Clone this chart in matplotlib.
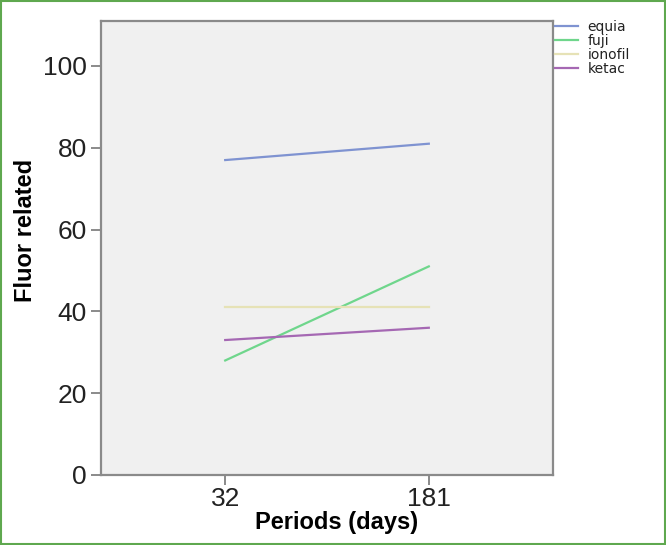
import matplotlib
matplotlib.use("Agg")
import matplotlib.pyplot as plt
from matplotlib.patches import Rectangle

periods = ["32", "181"]
series_names = ["equia", "fuji", "ionofil", "ketac"]
equia = [77, 81]
fuji = [28, 51]
ionofil = [41, 41]
ketac = [33, 36]
yticks = [0, 20, 40, 60, 80, 100]

colors = {"equia": "#7f93d1", "fuji": "#6fd68c", "ionofil": "#e6e2b6", "ketac": "#a568b3"}

plt.rcParams['font.family'] = ['Liberation Sans', 'DejaVu Sans']

fig = plt.figure(figsize=(6.66, 5.45), dpi=100)
ax = fig.add_axes([101/666, 70/545, (553-101)/666, (475-21)/545])
ax.set_facecolor("#f0f0f0")

x = list(range(len(periods)))
for name, vals in zip(series_names, [equia, fuji, ionofil, ketac]):
    ax.plot(x, vals, color=colors[name], lw=1.6, label=name)

ax.set_xlim(-0.61, 1.61)
ax.set_ylim(0, 111)
ax.set_xticks(x)
ax.set_xticklabels(periods)
ax.set_yticks(yticks)
ax.tick_params(axis='both', direction='out', length=7, width=1.2, color="#777777",
               labelsize=19, labelcolor="#222222", pad=3)
ax.tick_params(axis='x', pad=1.5)
for s in ax.spines.values():
    s.set_color("#8a8a8a")
    s.set_linewidth(1.6)

ax.set_xlabel("Periods (days)", fontsize=17, fontweight='bold')
ax.set_ylabel("Fluor related", fontsize=17, fontweight='bold')
ax.xaxis.set_label_coords((337 - 101) / 452, -(523 - 475) / 454)
ax.yaxis.set_label_coords(-(101 - 26) / 452, (475 - 230) / 454)
ax.xaxis.label.set_va('center')
ax.yaxis.label.set_va('center')

leg = ax.legend(loc='upper left', bbox_to_anchor=(0.999, 1.008), frameon=False,
                prop={'family': ['DejaVu Sans'], 'size': 10},
                handlelength=1.65, handletextpad=0.65, labelspacing=0.0,
                borderaxespad=0.0, borderpad=0.2)
for t in leg.get_texts():
    t.set_color("#222222")

fig.patches.append(Rectangle((0.002, 0.002), 0.996, 0.996, transform=fig.transFigure,
                             fill=False, edgecolor="#5fa84f", lw=1.5))

fig.savefig("out.png", dpi=100)
